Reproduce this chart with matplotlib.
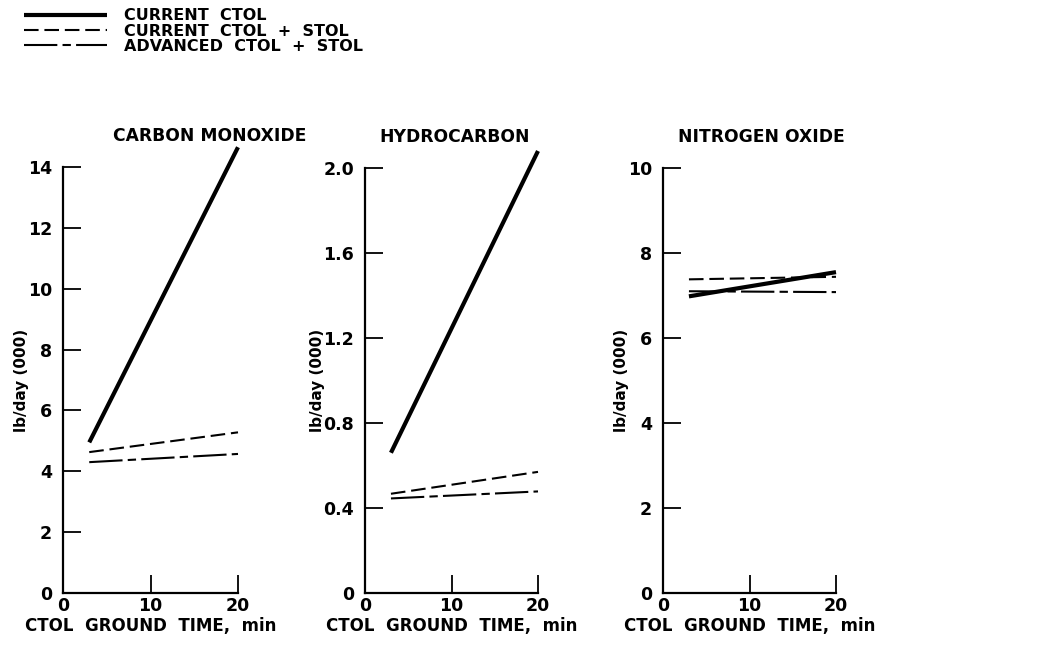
import matplotlib
matplotlib.use("Agg")
import matplotlib.pyplot as plt

# Ground-time endpoints (min) and daily emissions, lb/day (000)
ground_time = [3, 20]

co_current = [4.95, 14.65]
co_current_stol = [4.63, 5.28]
co_advanced_stol = [4.3, 4.57]

hc_current = [0.66, 2.08]
hc_current_stol = [0.467, 0.57]
hc_advanced_stol = [0.445, 0.478]

nox_current = [6.98, 7.55]
nox_current_stol = [7.38, 7.44]
nox_advanced_stol = [7.1, 7.08]

panel_titles = ["CARBON MONOXIDE", "HYDROCARBON", "NITROGEN OXIDE"]
y_tops = [14, 2.0, 10]
y_ticks = [[0, 2, 4, 6, 8, 10, 12, 14],
           [0, 0.4, 0.8, 1.2, 1.6, 2.0],
           [0, 2, 4, 6, 8, 10]]
y_ticklabels = [["0", "2", "4", "6", "8", "10", "12", "14"],
                ["0", "0.4", "0.8", "1.2", "1.6", "2.0"],
                ["0", "2", "4", "6", "8", "10"]]
x_ticks = [0, 10, 20]
series_labels = ["CURRENT  CTOL", "CURRENT  CTOL  +  STOL", "ADVANCED  CTOL  +  STOL"]

plt.rcParams["font.family"] = "DejaVu Sans"
plt.rcParams["font.weight"] = "bold"

W, H = 1060, 647
fig = plt.figure(figsize=(W / 100, H / 100), dpi=100)

# axes boxes in pixels: left, right, top, bottom
boxes = [(63, 238, 167, 593), (365, 538, 168, 593), (663, 836, 168, 593)]
title_x = [0.84, 0.52, 0.57]

data = [
    (co_current, co_current_stol, co_advanced_stol),
    (hc_current, hc_current_stol, hc_advanced_stol),
    (nox_current, nox_current_stol, nox_advanced_stol),
]

styles = [
    dict(color="black", lw=3.0, ls="-", solid_capstyle="butt"),
    dict(color="black", lw=1.5, ls=(0, (7, 2.8))),
    dict(color="black", lw=1.5, ls=(0, (16, 2.5, 4, 2.5))),
]

handles = []
for i, (l, r, t, b) in enumerate(boxes):
    ax = fig.add_axes([l / W, (H - b) / H, (r - l) / W, (b - t) / H])
    for series, st in zip(data[i], styles):
        ln, = ax.plot(ground_time, series, clip_on=False, **st)
        if i == 0:
            handles.append(ln)
    ax.set_xlim(0, 20)
    ax.set_ylim(0, y_tops[i])
    for side in ("top", "right"):
        ax.spines[side].set_visible(False)
    for side in ("left", "bottom"):
        ax.spines[side].set_linewidth(1.6)
    ax.set_yticks(y_ticks[i])
    ax.set_yticklabels(y_ticklabels[i])
    ax.set_xticks(x_ticks)
    ax.set_xticklabels([str(v) for v in x_ticks])
    ax.tick_params(axis="both", direction="in", length=13, width=1.3,
                   labelsize=12.5, pad=8)
    ax.tick_params(axis="x", pad=3)
    for lab in ax.get_xticklabels() + ax.get_yticklabels():
        lab.set_fontweight("bold")
    ax.set_xlabel("CTOL  GROUND  TIME,  min", fontsize=12, fontweight="bold",
                  labelpad=1)
    ax.set_ylabel("lb/day (000)", fontsize=11, fontweight="bold", labelpad=-1)
    ax.text(title_x[i], 1 + 22 / (b - t), panel_titles[i], transform=ax.transAxes,
            ha="center", va="bottom", fontsize=12.3, fontweight="bold")

fig.legend(handles, series_labels, loc="upper left", bbox_to_anchor=(18 / W, 1 - 2 / H),
           frameon=False, handlelength=5.2, handletextpad=1.05, labelspacing=0.02,
           prop=dict(size=11.5, weight="bold"), borderaxespad=0)

fig.savefig("out.png", dpi=100, facecolor="white")
